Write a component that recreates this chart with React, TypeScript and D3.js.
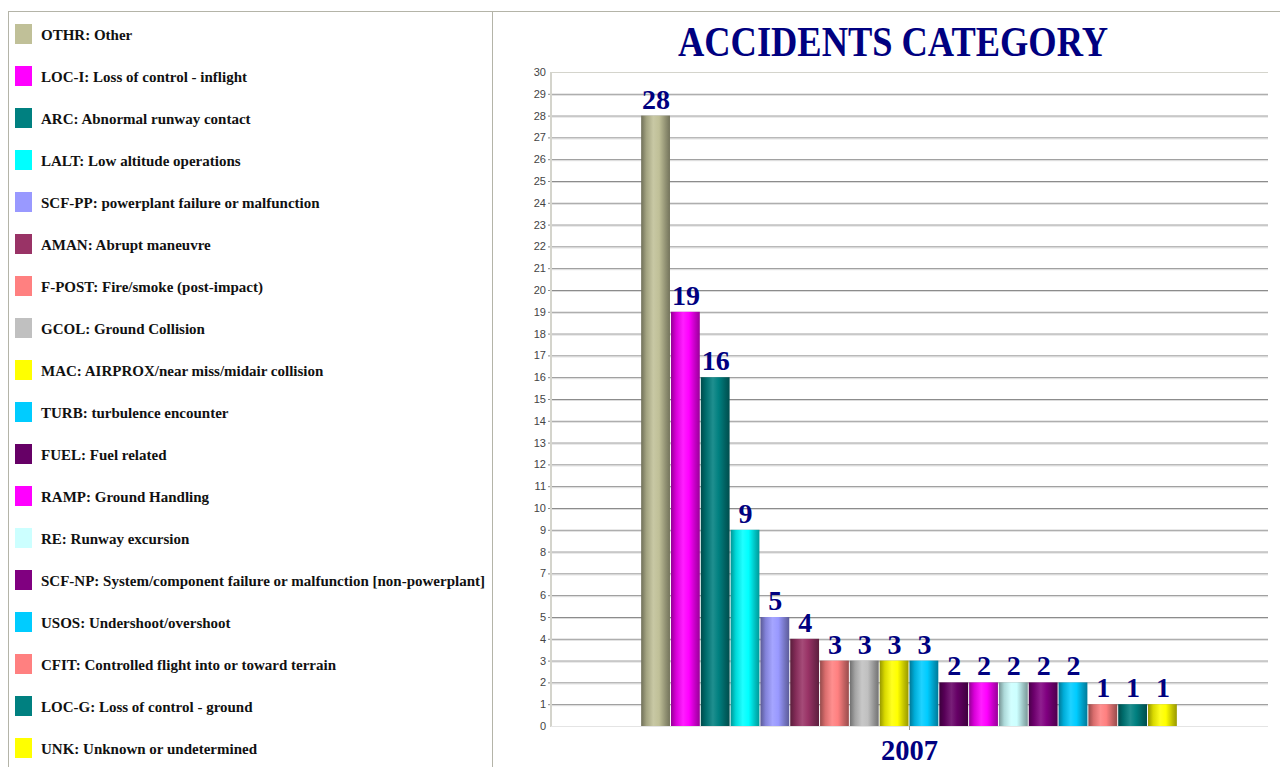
import React from "react";
import * as d3 from "d3";

// Accident categories, 2007
const codes = [
  "OTHR", "LOC-I", "ARC", "LALT", "SCF-PP", "AMAN", "F-POST", "GCOL", "MAC",
  "TURB", "FUEL", "RAMP", "RE", "SCF-NP", "USOS", "CFIT", "LOC-G", "UNK",
];
const descriptions = [
  "Other", "Loss of control - inflight", "Abnormal runway contact",
  "Low altitude operations", "powerplant failure or malfunction",
  "Abrupt maneuvre", "Fire/smoke (post-impact)", "Ground Collision",
  "AIRPROX/near miss/midair collision", "turbulence encounter",
  "Fuel related", "Ground Handling", "Runway excursion",
  "System/component failure or malfunction [non-powerplant]",
  "Undershoot/overshoot", "Controlled flight into or toward terrain",
  "Loss of control - ground", "Unknown or undetermined",
];
const counts = [28, 19, 16, 9, 5, 4, 3, 3, 3, 3, 2, 2, 2, 2, 2, 1, 1, 1];
const colors = [
  "#c0c098", "#ff00ff", "#008080", "#00ffff", "#9999ff", "#993366",
  "#ff8080", "#c0c0c0", "#ffff00", "#00ccff", "#660066", "#ff00ff",
  "#ccffff", "#800080", "#00ccff", "#ff8080", "#008080", "#ffff00",
];
const years = ["2007"];
const yTicks = d3.range(0, 31);

const W = 1280;
const H = 767;
const NAVY = "#000080";
const SERIF = "'Liberation Serif', 'Times New Roman', serif";
const SANS = "'Liberation Sans', Arial, sans-serif";

export default function App() {
  const plotLeft = 551;
  const plotRight = 1268;
  const plotTop = 72;
  const plotBottom = 726;

  const y = d3.scaleLinear().domain([0, 30]).range([plotBottom, plotTop]);
  const xYear = d3
    .scaleBand<string>()
    .domain(years)
    .range([plotLeft, plotRight])
    .paddingInner(0)
    .paddingOuter(0.168);
  const x = d3
    .scaleBand<string>()
    .domain(codes)
    .range([xYear("2007")!, xYear("2007")! + xYear.bandwidth()]);
  const bw = x.bandwidth();

  const shade = (c: string, k: number) => d3.interpolateRgb(c, "#000")(k);
  const tint = (c: string, k: number) => d3.interpolateRgb(c, "#fff")(k);

  return (
    <svg
      width={W}
      height={H}
      style={{ position: "absolute", left: 0, top: 0, display: "block", background: "#fff" }}
    >
      <defs>
        {colors.map((c, i) => (
          <linearGradient key={i} id={`bar-${i}`} x1="0" x2="1" y1="0" y2="0">
            <stop offset="0%" stopColor={shade(c, 0.42)} />
            <stop offset="18%" stopColor={shade(c, 0.15)} />
            <stop offset="42%" stopColor={tint(c, 0.12)} />
            <stop offset="62%" stopColor={c} />
            <stop offset="85%" stopColor={shade(c, 0.25)} />
            <stop offset="100%" stopColor={shade(c, 0.4)} />
          </linearGradient>
        ))}
      </defs>

      {/* page frame */}
      <line x1={8} x2={W} y1={11.5} y2={11.5} stroke="#b4b4a8" />
      <line x1={8.5} x2={8.5} y1={11} y2={H} stroke="#b4b4a8" />
      <line x1={492.5} x2={492.5} y1={11} y2={H} stroke="#b4b4a8" />

      {/* legend */}
      {codes.map((code, i) => {
        const cy = 34 + i * 42;
        return (
          <g key={code}>
            <rect x={15} y={cy - 10} width={17} height={20} fill={colors[i]} />
            <text
              x={41}
              y={cy + 6}
              fontFamily={SERIF}
              fontWeight="bold"
              fontSize={15}
              fill="#111"
            >
              {`${code}: ${descriptions[i]}`}
            </text>
          </g>
        );
      })}

      {/* title */}
      <text
        x={893}
        y={56}
        textAnchor="middle"
        fontFamily={SERIF}
        fontWeight="bold"
        fontSize={42}
        fill={NAVY}
        textLength={430}
        lengthAdjust="spacingAndGlyphs"
      >
        ACCIDENTS CATEGORY
      </text>

      {/* grid */}
      {yTicks.map((t) => (
        <g key={t}>
          {t > 0 && t < 30 && (
            <>
              <line x1={548} x2={plotRight} y1={y(t) + 0.5} y2={y(t) + 0.5} stroke="#8c8c8c" />
              <line x1={plotLeft} x2={plotRight} y1={y(t) + 1.5} y2={y(t) + 1.5} stroke="#dcdcdc" />
            </>
          )}
          <text
            x={546}
            y={y(t) + 4}
            textAnchor="end"
            fontFamily={SANS}
            fontSize={11}
            fill="#444"
          >
            {t}
          </text>
        </g>
      ))}
      <line x1={plotLeft} x2={plotRight} y1={plotTop + 0.5} y2={plotTop + 0.5} stroke="#d4d4cc" />
      <line x1={plotLeft} x2={plotLeft} y1={plotTop} y2={plotBottom + 1} stroke="#d4d4cc" strokeWidth={2} />

      {/* bars */}
      {codes.map((code, i) => {
        const x0 = x(code)!;
        const top = y(counts[i]);
        return (
          <g key={code}>
            <rect
              x={x0}
              y={top}
              width={bw - 1}
              height={plotBottom - top}
              fill={`url(#bar-${i})`}
            />
            <text
              x={x0 + bw / 2}
              y={top - 7}
              textAnchor="middle"
              fontFamily={SERIF}
              fontWeight="bold"
              fontSize={28}
              fill={NAVY}
            >
              {counts[i]}
            </text>
          </g>
        );
      })}

      {/* category axis */}
      <line x1={plotLeft} x2={plotRight} y1={plotBottom + 0.5} y2={plotBottom + 0.5} stroke="#e4e4e4" />
      {years.map((yr) => {
        const cx = xYear(yr)! + xYear.bandwidth() / 2;
        return (
          <g key={yr}>
            <line x1={cx} x2={cx} y1={plotBottom} y2={plotBottom + 4} stroke="#999" />
            <text
              x={cx}
              y={760}
              textAnchor="middle"
              fontFamily={SERIF}
              fontWeight="bold"
              fontSize={30}
              fill={NAVY}
              textLength={57}
              lengthAdjust="spacingAndGlyphs"
            >
              {yr}
            </text>
          </g>
        );
      })}
    </svg>
  );
}
